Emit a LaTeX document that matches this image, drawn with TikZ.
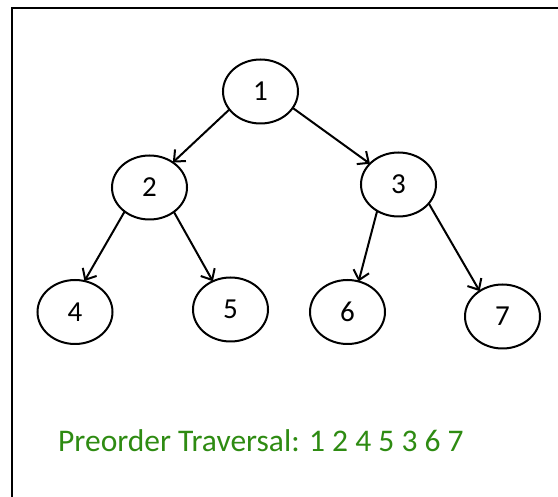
\documentclass[tikz,border=0pt]{standalone}
\usepackage{fontspec}
\setmainfont{Carlito}
\usetikzlibrary{arrows.meta,shapes.geometric}
\definecolor{travgreen}{RGB}{46,139,18}
\tikzset{
  treenode/.style={ellipse, draw=black, line width=2pt, minimum width=75pt, minimum height=64pt,
                   inner sep=0pt, outer sep=0pt, font=\fontsize{29}{31}\selectfont},
  edge/.style={line width=2pt, -{Straight Barb[length=9pt,width=16pt,line width=2pt]}},
}
\begin{document}
\begin{tikzpicture}[x=1pt,y=-1pt]
  \useasboundingbox (0,0) rectangle (558,497);
  % frame (only the left and top sides fall inside the page)
  \draw[line width=2.4pt] (12,520) -- (12,8) -- (580,8);

  \node[treenode] (n1) at (260.5,91.5) {1};
  \node[treenode] (n2) at (149.5,187.5) {2};
  \node[treenode] (n3) at (398.5,184.5) {3};
  \node[treenode] (n4) at (75,312) {4};
  \node[treenode] (n5) at (230.5,309.5) {5};
  \node[treenode] (n6) at (347.5,312) {6};
  \node[treenode] (n7) at (502.5,316.5) {7};

  \draw[edge] (n1.-150) -- (n2.47);
  \draw[edge] (n1.-27) -- (n3.144);
  \draw[edge] (n2.-136) -- (n4.73);
  \draw[edge] (n2.-45) -- (n5.122);
  \draw[edge] (n3.-129) -- (n6.70);
  \draw[edge] (n3.-32) -- (n7.132);

  \node[anchor=base west, text=travgreen, font=\fontsize{31.5}{36}\selectfont, inner sep=0pt]
    (trav) at (58,452) {Preorder Traversal: 1 2 4 5 3 6 7};
\end{tikzpicture}
\end{document}
